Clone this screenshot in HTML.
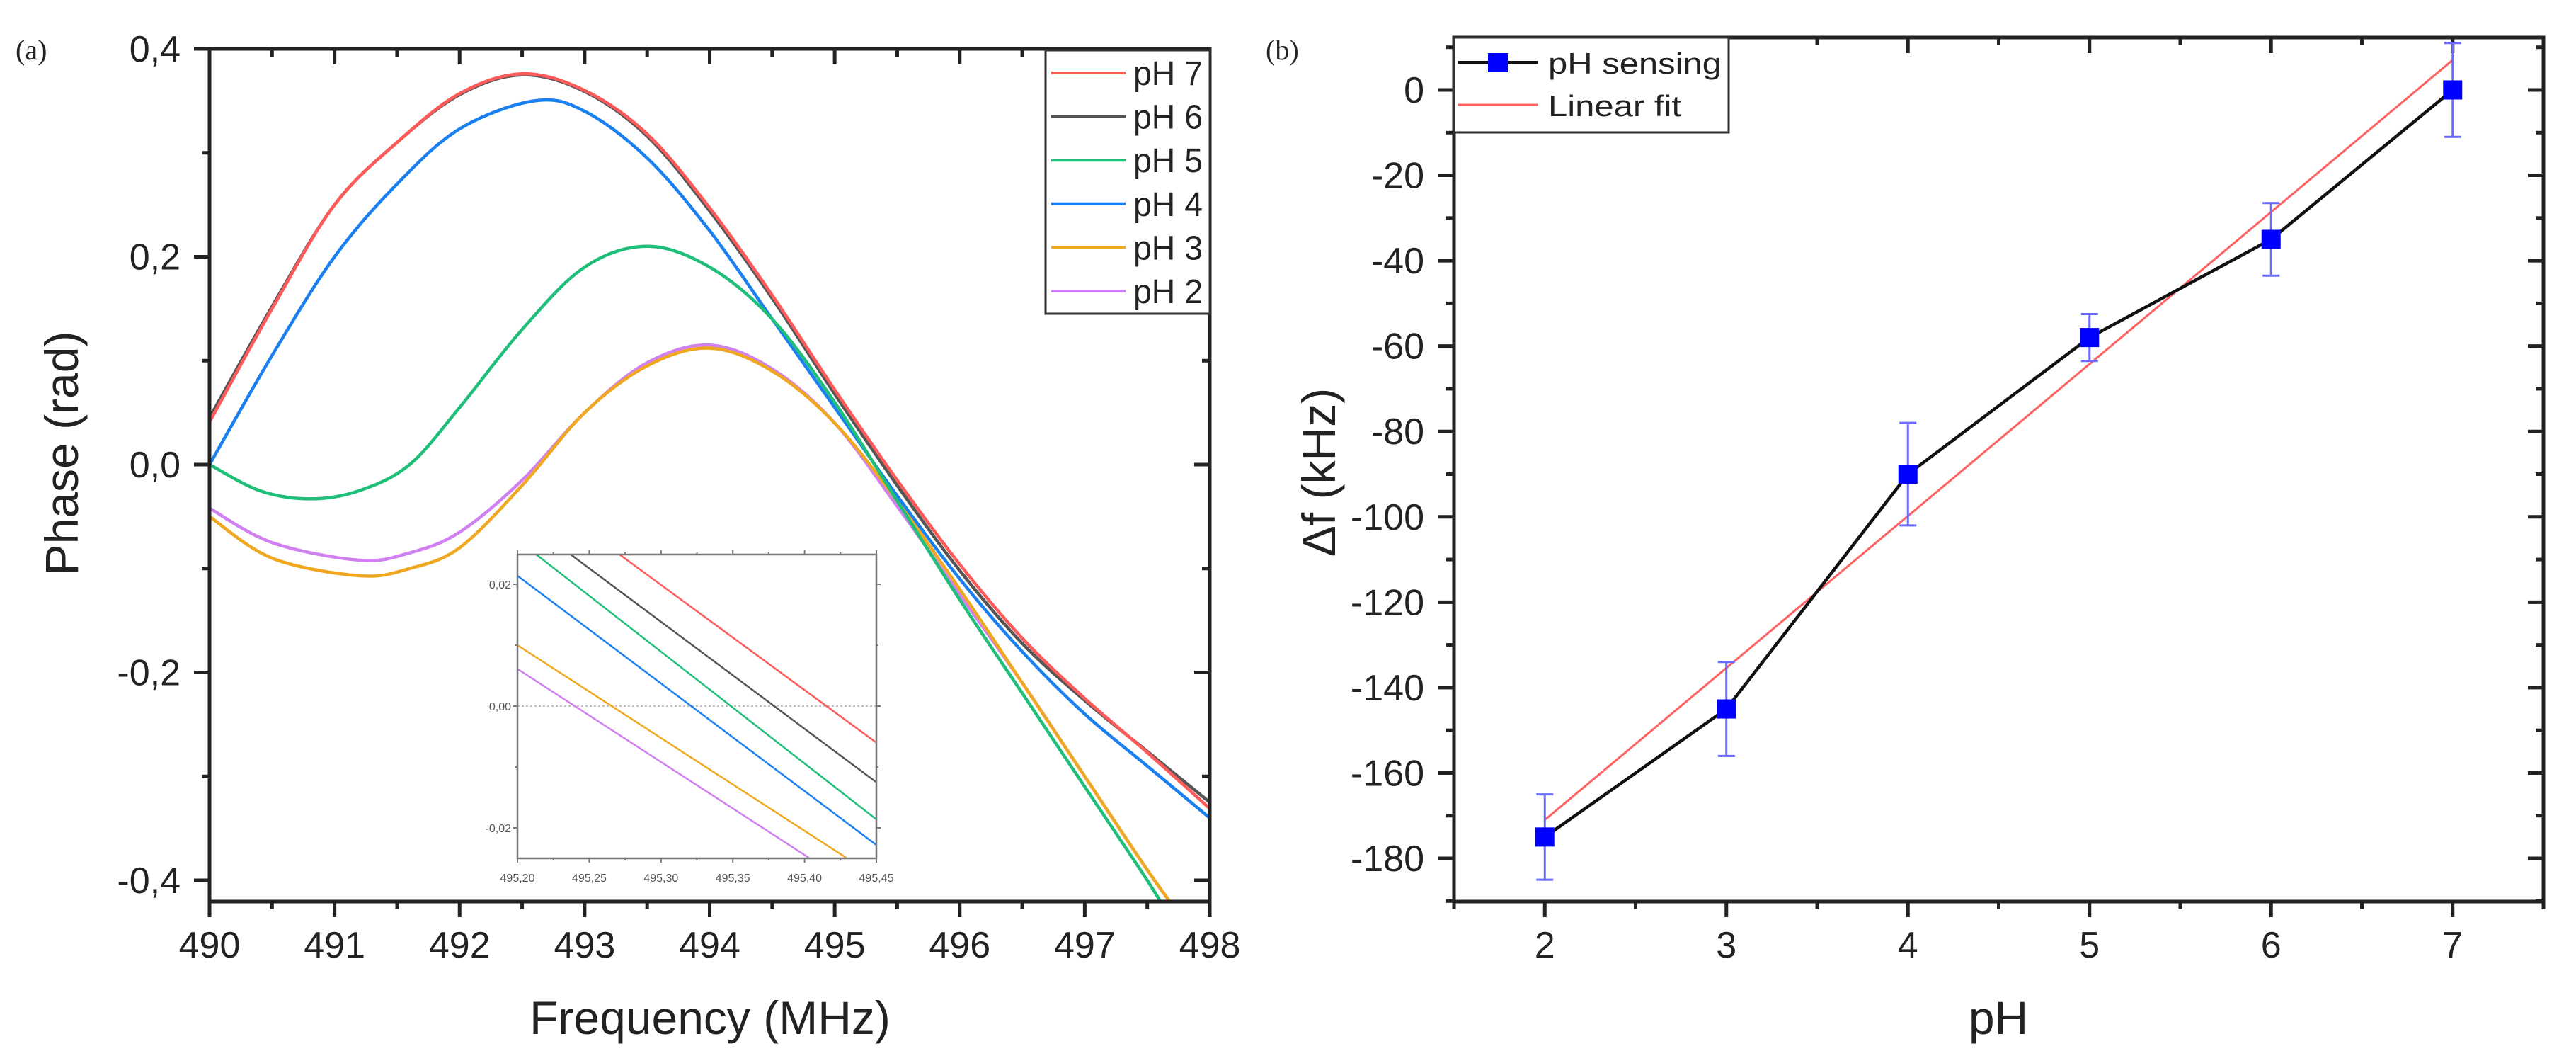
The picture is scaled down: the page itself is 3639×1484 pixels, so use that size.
<!DOCTYPE html>
<html><head><meta charset="utf-8">
<style>
html,body{margin:0;padding:0;background:#fff;}
svg{display:block;font-family:"Liberation Sans",Arial,sans-serif;}
</style></head>
<body>
<svg id="fig" width="3639" height="1484" viewBox="0 0 3639 1484" xmlns="http://www.w3.org/2000/svg">
<g id="pa"></g>
<g id="pb"></g>
</svg>
<script>
// ---------- Panel (a) data ----------
const seriesNames = ["pH 7","pH 6","pH 5","pH 4","pH 3","pH 2"];
const seriesColors = ["#ff5a5a","#555555","#1fbf7a","#1a80f0","#f0a820","#d080f0"];
const freqPH7 = [490,490.5,491,491.5,492,492.5,493,493.5,494,494.5,495,495.5,496,496.5,497,497.5,498];
const phasePH7 = [0.041,0.15,0.25,0.31,0.357,0.376,0.36,0.318,0.247,0.163,0.072,-0.015,-0.096,-0.167,-0.225,-0.277,-0.331];
const freqPH6 = [490,490.5,491,491.5,492,492.5,493,493.5,494,494.5,495,495.5,496,496.5,497,497.5,498];
const phasePH6 = [0.045,0.152,0.25,0.31,0.356,0.375,0.359,0.316,0.244,0.160,0.068,-0.02,-0.102,-0.172,-0.227,-0.276,-0.325];
const freqPH5 = [490,490.4,490.8,491.2,491.6,492,492.5,493,493.5,494,494.5,495,495.5,496,496.5,497,497.5,497.7];
const phasePH5 = [0.0,-0.025,-0.033,-0.025,0.0,0.055,0.13,0.19,0.21,0.19,0.14,0.06,-0.035,-0.13,-0.22,-0.31,-0.40,-0.44];
const freqPH4 = [490,490.5,491,491.5,492,492.6,493,493.5,494,494.5,495,495.5,496,496.5,497,497.5,498];
const phasePH4 = [0.0,0.105,0.20,0.27,0.323,0.35,0.34,0.295,0.225,0.14,0.055,-0.03,-0.11,-0.18,-0.24,-0.29,-0.34];
const freqPH3 = [490,490.5,491.2,491.6,492,492.5,493,493.5,494,494.5,495,495.5,496,496.5,497,497.5,497.8];
const phasePH3 = [-0.05,-0.09,-0.107,-0.1,-0.08,-0.02,0.05,0.095,0.112,0.09,0.04,-0.035,-0.12,-0.21,-0.30,-0.39,-0.44];
const freqPH2 = [490,490.5,491.2,491.6,492,492.5,493,493.5,494,494.5,495,495.5,496,496.5,497,497.5,497.8];
const phasePH2 = [-0.042,-0.075,-0.092,-0.085,-0.065,-0.015,0.05,0.098,0.115,0.092,0.04,-0.04,-0.125,-0.21,-0.30,-0.39,-0.44];
const xTicksA = [490,491,492,493,494,495,496,497,498];
const yTicksA = [-0.4,-0.2,0.0,0.2,0.4];
const yTickLabelsA = ["-0,4","-0,2","0,0","0,2","0,4"];
// inset: start/end points of each series
const insetStartX = [495.271,495.237,495.213,495.2,495.2,495.2];
const insetStartY = [0.0249,0.0249,0.0249,0.0214,0.0100,0.0061];
const insetEndX = [495.45,495.45,495.45,495.45,495.429,495.403];
const insetEndY = [-0.0060,-0.0125,-0.0186,-0.0228,-0.0249,-0.0249];
const insetXTicks = [495.20,495.25,495.30,495.35,495.40,495.45];
const insetXLabels = ["495,20","495,25","495,30","495,35","495,40","495,45"];
const insetYTicks = [-0.02,0,0.02];
const insetYLabels = ["-0,02","0,00","0,02"];
// ---------- Panel (b) data ----------
const pHValues = [2,3,4,5,6,7];
const deltaF = [-175,-145,-90,-58,-35,0];
const deltaFErr = [10,11,12,5.5,8.5,11];
const fitX = [2,7];
const fitY = [-171,7];
const xTicksB = [2,3,4,5,6,7];
const yTicksB = [0,-20,-40,-60,-80,-100,-120,-140,-160,-180];

const NS="http://www.w3.org/2000/svg";
function mk(parent,tag,attrs,text){const e=document.createElementNS(NS,tag);for(const k in attrs)e.setAttribute(k,attrs[k]);if(text!==undefined)e.textContent=text;parent.appendChild(e);return e;}
function smooth(pts){let d="M"+pts[0][0].toFixed(1)+","+pts[0][1].toFixed(1);
 for(let i=0;i<pts.length-1;i++){const p0=pts[Math.max(0,i-1)],p1=pts[i],p2=pts[i+1],p3=pts[Math.min(pts.length-1,i+2)];
 const c1=[p1[0]+(p2[0]-p0[0])/6,p1[1]+(p2[1]-p0[1])/6],c2=[p2[0]-(p3[0]-p1[0])/6,p2[1]-(p3[1]-p1[1])/6];
 d+="C"+c1[0].toFixed(1)+","+c1[1].toFixed(1)+" "+c2[0].toFixed(1)+","+c2[1].toFixed(1)+" "+p2[0].toFixed(1)+","+p2[1].toFixed(1);}return d;}

// ===== Panel A =====
const pa=document.getElementById('pa');
const AL=296,AR=1709,AT=69,AB=1273;
const ax=v=>AL+(v-490)/8*(AR-AL);
const ay=v=>1243-(v+0.4)/0.8*(1243-AT);
mk(pa,'defs',{}).innerHTML='<clipPath id="clipA"><rect x="296" y="69" width="1413" height="1204"/></clipPath><clipPath id="clipI"><rect x="731" y="783" width="507" height="429"/></clipPath>';
const lbl=mk(pa,'text',{x:22,y:84,'font-family':'Liberation Serif,serif','font-size':40,fill:'#222'},'(a)');

const freqs=[freqPH7,freqPH6,freqPH5,freqPH4,freqPH3,freqPH2];
const phases=[phasePH7,phasePH6,phasePH5,phasePH4,phasePH3,phasePH2];
const curves=mk(pa,'g',{'clip-path':'url(#clipA)'});
for(let s=5;s>=0;s--){const pts=freqs[s].map((f,i)=>[ax(f),ay(phases[s][i])]);
 const p=mk(curves,'path',{d:smooth(pts),fill:'none',stroke:seriesColors[s],'stroke-width':4.5});
 
 }
const boxA=mk(pa,'rect',{x:AL,y:AT,width:AR-AL,height:AB-AT,fill:'none',stroke:'#222','stroke-width':5});

for(let v=490;v<=498.001;v+=0.5){const major=Math.abs(v-Math.round(v))<1e-6;const x=ax(v);
 mk(pa,'line',{x1:x,y1:AB,x2:x,y2:AB+(major?22:11),stroke:'#222','stroke-width':5});
 mk(pa,'line',{x1:x,y1:AT,x2:x,y2:AT+(major?22:11),stroke:'#222','stroke-width':5});}
xTicksA.forEach(v=>{const t=mk(pa,'text',{x:ax(v),y:1352,'text-anchor':'middle','font-size':52,fill:'#222'},String(v));
 });
for(let k=-4;k<=4;k++){const v=k/10;const major=k%2===0;const y=ay(v);
 mk(pa,'line',{x1:AL,y1:y,x2:AL-(major?22:11),y2:y,stroke:'#222','stroke-width':5});
 mk(pa,'line',{x1:AR,y1:y,x2:AR-(major?22:11),y2:y,stroke:'#222','stroke-width':5});}
yTicksA.forEach((v,i)=>{const t=mk(pa,'text',{x:255,y:ay(v)+18,'text-anchor':'end','font-size':52,fill:'#222'},yTickLabelsA[i]);
 });
const xtA=mk(pa,'text',{x:1003,y:1460,'text-anchor':'middle','font-size':66,fill:'#222'},'Frequency (MHz)');

const ytA=mk(pa,'text',{x:0,y:0,'text-anchor':'middle','font-size':66,fill:'#222',transform:'translate(110,640) rotate(-90)'},'Phase (rad)');

const legA=mk(pa,'g',{});

mk(legA,'rect',{x:1477,y:71,width:232,height:372,fill:'#fff',stroke:'#333','stroke-width':3});
seriesNames.forEach((n,i)=>{const y=103+i*61.6;const g=mk(legA,'g',{});
 
 mk(g,'line',{x1:1485,y1:y,x2:1590,y2:y,stroke:seriesColors[i],'stroke-width':4});
 mk(g,'text',{x:1601,y:y+17,'font-size':48,fill:'#222',textLength:98,lengthAdjust:'spacingAndGlyphs'},n);});
// inset
const IL=731,IR=1238,IT=783,IB=1212;
const ix=v=>IL+(v-495.2)/0.25*(IR-IL);
const iy=v=>997-v/0.02*(997-825);
const ins=mk(pa,'g',{});

mk(ins,'rect',{x:IL,y:IT,width:IR-IL,height:IB-IT,fill:'#fff',stroke:'none'});
mk(ins,'line',{x1:IL,y1:iy(0),x2:IR,y2:iy(0),stroke:'#aaa','stroke-width':1.5,'stroke-dasharray':'3,3'});
const il=mk(ins,'g',{'clip-path':'url(#clipI)'});
for(let s=0;s<6;s++){const l=mk(il,'line',{x1:ix(insetStartX[s]),y1:iy(insetStartY[s]),x2:ix(insetEndX[s]),y2:iy(insetEndY[s]),stroke:seriesColors[s],'stroke-width':2.5});
 }
mk(ins,'rect',{x:IL,y:IT,width:IR-IL,height:IB-IT,fill:'none',stroke:'#777','stroke-width':2.5});
for(let k=0;k<=10;k++){const x=IL+k*(IR-IL)/10;const m=k%2===0;
 mk(ins,'line',{x1:x,y1:IB,x2:x,y2:IB+(m?6:3),stroke:'#777','stroke-width':2});
 mk(ins,'line',{x1:x,y1:IT,x2:x,y2:IT-(m?6:3),stroke:'#777','stroke-width':2});}
for(let k=-2;k<=2;k++){const y=iy(k*0.01);
 mk(ins,'line',{x1:IL,y1:y,x2:IL-(k%2===0?6:3),y2:y,stroke:'#777','stroke-width':2});
 mk(ins,'line',{x1:IR,y1:y,x2:IR+(k%2===0?6:3),y2:y,stroke:'#777','stroke-width':2});}
insetXTicks.forEach((v,i)=>mk(ins,'text',{x:ix(v),y:IB+33,'text-anchor':'middle','font-size':16,fill:'#555'},insetXLabels[i]));
insetYTicks.forEach((v,i)=>mk(ins,'text',{x:IL-9,y:iy(v)+6,'text-anchor':'end','font-size':16,fill:'#555'},insetYLabels[i]));

// ===== Panel B =====
const pb=document.getElementById('pb');
const BL=2054,BR=3593,BT=53,BB=1273;
const bx=v=>BL+(v-1.5)/6*(BR-BL);
const by=v=>127+(0-v)/180*(1212-127);
const lblB=mk(pb,'text',{x:1788,y:84,'font-family':'Liberation Serif,serif','font-size':40,fill:'#222'},'(b)');

const frameB=mk(pb,'rect',{x:BL,y:BT,width:BR-BL,height:BB-BT,fill:'none',stroke:'#222','stroke-width':5});

for(let v=1.5;v<=7.501;v+=0.5){const x=bx(v);const major=Math.abs(v-Math.round(v))<1e-6;
 mk(pb,'line',{x1:x,y1:BB,x2:x,y2:BB+(major?22:11),stroke:'#222','stroke-width':5});
 mk(pb,'line',{x1:x,y1:BT,x2:x,y2:BT+(major?22:11),stroke:'#222','stroke-width':5});}
for(let v=10;v>=-190;v-=10){const y=by(v);const major=v%20===0;
 mk(pb,'line',{x1:BL,y1:y,x2:BL-(major?22:11),y2:y,stroke:'#222','stroke-width':5});
 mk(pb,'line',{x1:BR,y1:y,x2:BR-(major?22:11),y2:y,stroke:'#222','stroke-width':5});}
xTicksB.forEach(v=>{const t=mk(pb,'text',{x:bx(v),y:1352,'text-anchor':'middle','font-size':52,fill:'#222'},String(v));
 });
yTicksB.forEach(v=>{const t=mk(pb,'text',{x:2012,y:by(v)+18,'text-anchor':'end','font-size':52,fill:'#222'},String(v));
 });
const xtB=mk(pb,'text',{x:2823,y:1460,'text-anchor':'middle','font-size':66,fill:'#222'},'pH');

const ytB=mk(pb,'text',{x:0,y:0,'text-anchor':'middle','font-size':66,fill:'#222',transform:'translate(1886,667) rotate(-90)'},'Δf (kHz)');

const fit=mk(pb,'line',{x1:bx(fitX[0]),y1:by(fitY[0]),x2:bx(fitX[1]),y2:by(fitY[1]),stroke:'#ff6060','stroke-width':3});

const dl=mk(pb,'polyline',{points:pHValues.map((p,i)=>bx(p)+','+by(deltaF[i])).join(' '),fill:'none',stroke:'#111','stroke-width':4.5});

pHValues.forEach((p,i)=>{const x=bx(p);const g=mk(pb,'g',{});
 
 const y1=by(deltaF[i]+deltaFErr[i]),y2=by(deltaF[i]-deltaFErr[i]);
 mk(g,'line',{x1:x,y1:y1,x2:x,y2:y2,stroke:'#6a6aff','stroke-width':3});
 mk(g,'line',{x1:x-12,y1:y1,x2:x+12,y2:y1,stroke:'#6a6aff','stroke-width':3});
 mk(g,'line',{x1:x-12,y1:y2,x2:x+12,y2:y2,stroke:'#6a6aff','stroke-width':3});
 mk(g,'rect',{x:x-13.5,y:by(deltaF[i])-13.5,width:27,height:27,fill:'#0000ff'});});
const legB=mk(pb,'g',{});

mk(legB,'rect',{x:BL,y:BT,width:388,height:134,fill:'#fff',stroke:'#333','stroke-width':3});
const e1=mk(legB,'g',{});
mk(e1,'line',{x1:2060,y1:88,x2:2172,y2:88,stroke:'#111','stroke-width':4});
mk(e1,'rect',{x:2102,y:75,width:28,height:27,fill:'#0000ff'});
mk(e1,'text',{x:2187,y:104,'font-size':42,fill:'#222',textLength:245,lengthAdjust:'spacingAndGlyphs'},'pH sensing');
const e2=mk(legB,'g',{});
mk(e2,'line',{x1:2060,y1:148,x2:2172,y2:148,stroke:'#ff6060','stroke-width':3});
mk(e2,'text',{x:2187,y:164,'font-size':42,fill:'#222',textLength:188,lengthAdjust:'spacingAndGlyphs'},'Linear fit');
</script>
</body></html>
